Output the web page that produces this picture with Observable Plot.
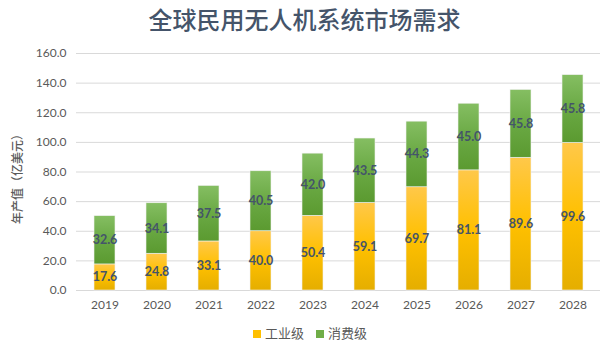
<!DOCTYPE html>
<html><head><meta charset="utf-8">
<script src="https://cdn.jsdelivr.net/npm/d3@7"></script>
<script src="https://cdn.jsdelivr.net/npm/@observablehq/plot@0.6"></script>
<style>
body{margin:0;background:#fff;font-family:Lato,"Noto Sans CJK SC",sans-serif;}
#wrap{width:609px;height:346px;position:relative;}
#title{position:absolute;left:0;width:609px;top:4px;text-align:center;font-size:24px;font-weight:500;color:#44546a;font-family:"Noto Sans CJK SC",sans-serif;line-height:30px;}
#chart{position:absolute;left:0;top:40px;}
#legend{position:absolute;left:0;width:620px;top:323px;text-align:center;font-size:13px;color:#595959;font-family:"Noto Sans CJK SC",sans-serif;}
#legend span.sw{display:inline-block;width:8px;height:8px;margin-right:4px;vertical-align:0px;}
#legend span.it{margin:0 6px;}
</style></head>
<body><div id="wrap"><div id="title">全球民用无人机系统市场需求</div><div id="chart"></div><div id="legend"></div></div>
<script>
const years = ["2019","2020","2021","2022","2023","2024","2025","2026","2027","2028"];
const seriesNames = ["工业级","消费级"];
const industrial = [17.6,24.8,33.1,40.0,50.4,59.1,69.7,81.1,89.6,99.6];
const consumer = [32.6,34.1,37.5,40.5,42.0,43.5,44.3,45.0,45.8,45.8];
const yTicks = [0,20,40,60,80,100,120,140,160];
const yLabel = "年产值（亿美元）";
const legendColors = ["#ffc000","#70ad47"];

const rows = [];
years.forEach((y,i)=>{
  rows.push({year:y, series:seriesNames[0], value:industrial[i]});
  rows.push({year:y, series:seriesNames[1], value:consumer[i]});
});

const chart = Plot.plot({
  width: 609, height: 280,
  marginLeft: 76, marginRight: 9, marginTop: 13, marginBottom: 30,
  style: {fontFamily: 'Lato,"Noto Sans CJK SC",sans-serif', fontSize: "12px", color: "#595959", background: "transparent"},
  x: {domain: years, paddingInner: 0.6, paddingOuter: 0.3, label: null, tickSize: 0, tickPadding: 10},
  y: {domain: [0,160], ticks: yTicks, tickFormat: d => d.toFixed(1), label: null, tickSize: 0, tickPadding: 10},
  color: {domain: seriesNames, range: ["url(#gradY)","url(#gradG)"]},
  marks: [
    Plot.gridY(yTicks, {stroke: "#d9d9d9", strokeOpacity: 1, strokeWidth: 1}),
    Plot.barY(rows, {x: "year", y: "value", z: "series", fill: "series", stroke: "#f2f2f2", strokeWidth: 0.6}),
    Plot.text(rows, Plot.stackY({x: "year", y: "value", z: "series", text: d => d.value.toFixed(1), fill: "#44546a", fontWeight: "bold", fontSize: 12.5})),
    Plot.text([yLabel], {frameAnchor: "left", textAnchor: "middle", dx: -58, dy: 4, rotate: -90, text: d => d, fill: "#595959", fontWeight: 500, fontSize: 12, fontFamily: '"Noto Sans CJK SC",sans-serif'})
  ]
});
const defs = d3.select(chart).insert("defs", ":first-child");
const g1 = defs.append("linearGradient").attr("id","gradY").attr("x1",0).attr("y1",0).attr("x2",0).attr("y2",1);
g1.append("stop").attr("offset","0%").attr("stop-color","#ffc84a");
g1.append("stop").attr("offset","50%").attr("stop-color","#ffc000");
g1.append("stop").attr("offset","100%").attr("stop-color","#e5ae00");
const g2 = defs.append("linearGradient").attr("id","gradG").attr("x1",0).attr("y1",0).attr("x2",0).attr("y2",1);
g2.append("stop").attr("offset","0%").attr("stop-color","#85be62");
g2.append("stop").attr("offset","50%").attr("stop-color","#6aa944");
g2.append("stop").attr("offset","100%").attr("stop-color","#5b9a30");
document.getElementById("chart").appendChild(chart);

const lg = document.getElementById("legend");
seriesNames.forEach((s,i)=>{
  const it = document.createElement("span"); it.className="it";
  const sw = document.createElement("span"); sw.className="sw"; sw.style.background=legendColors[i];
  it.appendChild(sw); it.appendChild(document.createTextNode(s));
  lg.appendChild(it);
});
</script></body></html>
